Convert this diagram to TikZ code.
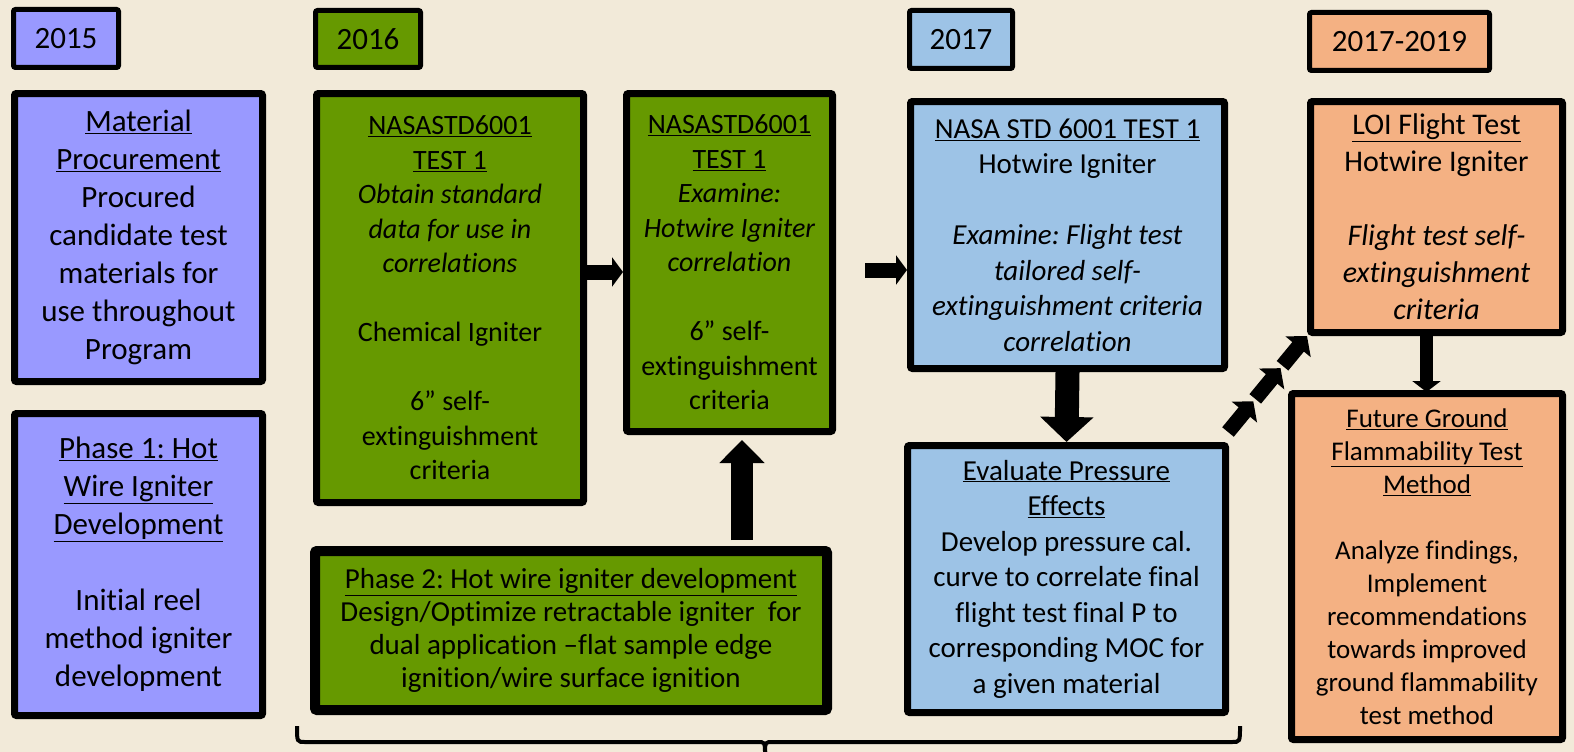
\documentclass[tikz,border=0pt]{standalone}
\usepackage{fontspec}
\setmainfont{Carlito}[Ligatures=NoCommon]
\frenchspacing
\usetikzlibrary{arrows.meta,calc}
\definecolor{bg}{HTML}{F2EAD9}
\definecolor{purp}{HTML}{9999FF}
\definecolor{grn}{HTML}{669900}
\definecolor{blu}{HTML}{9DC3E6}
\definecolor{org}{HTML}{F4B183}
\tikzset{
  box/.style={draw=black, line width=7pt, rounded corners=2pt, align=center, inner sep=0pt},
  yearbox/.style={box, line width=5pt, font=\fontsize{31}{38}\selectfont},
  fa/.style={font=\fontsize{31}{38}\selectfont},
  fb/.style={font=\fontsize{28}{34.5}\selectfont},
  fc/.style={font=\fontsize{29}{35.5}\selectfont},
  fd/.style={font=\fontsize{27}{33}\selectfont},
  fp/.style={font=\fontsize{29}{33}\selectfont},
  fe/.style={font=\fontsize{30}{37}\selectfont},
  bigarrow/.style={line width=22pt, -{Triangle[length=23pt,width=44pt]}},
  dnarrow/.style={line width=24pt, -{Triangle[length=25pt,width=52pt]}},
  midarrow/.style={line width=15pt, -{Triangle[length=11pt,width=29pt]}},
  smallarrow/.style={line width=13pt, -{Triangle[length=11pt,width=28pt]}},
  dasharrow/.style={line width=15pt, -{Triangle[length=14pt,width=32pt]}},
}
\begin{document}
\begin{tikzpicture}[x=1pt,y=-1pt]
\fill[bg] (0,0) rectangle (1574,752);
\useasboundingbox (0,0) rectangle (1574,752);

% year boxes
\node[yearbox, fill=purp, minimum width=105pt, minimum height=58pt] (y15) at (66,38.5) {2015};
\node[yearbox, fill=grn, minimum width=105pt, minimum height=57pt] (y16) at (368,39) {2016};
\node[yearbox, fill=blu, minimum width=103pt, minimum height=58pt] (y17) at (961,39.5) {2017};
\node[yearbox, fill=org, minimum width=180pt, minimum height=58pt] (y1719) at (1399.5,41.5) {2017-2019};

% 2015
\node[box, fa, fill=purp, minimum width=248pt, minimum height=288pt] (mat) at (138.5,237.5)
 {\underline{Material}\\ \underline{Procurement}\\ Procured\\ candidate test\\ materials for\\ use throughout\\ Program};
\node[box, fa, fill=purp, minimum width=248pt, minimum height=302pt] (ph1) at (138.5,564.5)
 {\underline{Phase 1: Hot}\\ \underline{Wire Igniter}\\ \underline{Development}\\[38pt] Initial reel\\ method igniter\\ development};

% 2016
\node[box, fb, fill=grn, minimum width=267pt, minimum height=409pt] (nasa1) at (450,298)
 {\underline{NASASTD6001}\\ \underline{TEST 1}\\ \textit{Obtain standard}\\ \textit{data for use in}\\ \textit{correlations}\\[34.5pt] Chemical Igniter\\[34.5pt] 6” self-\\ extinguishment\\ criteria};
\node[box, fb, fill=grn, minimum width=206pt, minimum height=338pt] (ex1) at (729.5,262.5)
 {\underline{NASASTD6001}\\ \underline{TEST 1}\\ \textit{Examine:}\\ \textit{Hotwire Igniter}\\ \textit{correlation}\\[34.5pt] 6” self-\\ extinguishment\\ criteria};
\node[box, fp, line width=10pt, fill=grn, minimum width=512pt, minimum height=159pt] (ph2) at (571,630.5)
 {\underline{Phase 2: Hot wire igniter development}\\ Design/Optimize retractable igniter\ \ for\\ dual application –flat sample edge\\ ignition/wire surface ignition};

% 2017
\node[box, fc, fill=blu, minimum width=314pt, minimum height=267pt] (blue1) at (1067.5,235)
 {\underline{NASA STD 6001 TEST 1}\\ Hotwire Igniter\\[35.5pt] \textit{Examine: Flight test}\\ \textit{tailored self-}\\ \textit{extinguishment criteria}\\ \textit{correlation}};
\node[box, fc, fill=blu, minimum width=318pt, minimum height=267pt] (eval) at (1066.5,579)
 {\underline{Evaluate Pressure}\\ \underline{Effects}\\ Develop pressure cal.\\ curve to correlate final\\ flight test final P to\\ corresponding MOC for\\ a given material};

% 2017-2019
\node[box, fe, fill=org, minimum width=252pt, minimum height=231pt] (loi) at (1436.5,217)
 {\underline{LOI Flight Test}\\ Hotwire Igniter\\[37pt] \textit{Flight test self-}\\ \textit{extinguishment}\\ \textit{criteria}};
\node[box, fd, fill=org, minimum width=271pt, minimum height=346pt] (fut) at (1427,566.5)
 {\underline{Future Ground}\\ \underline{Flammability Test}\\ \underline{Method}\\[33pt] Analyze findings,\\ Implement\\ recommendations\\ towards improved\\ ground flammability\\ test method};

% arrows
\coordinate (r1) at (0,272);
\draw[midarrow] (nasa1.east |- r1) -- (ex1.west |- r1);
\coordinate (a2s) at (865,270);
\draw[midarrow] (a2s) -- (blue1.west |- a2s);
\coordinate (upx) at (742,0);
\draw[bigarrow] ($(ph2.north -| upx)+(0,-6)$) -- ($(ex1.south -| upx)+(0,5)$);
\draw[dnarrow] (blue1.south) -- (eval.north);
\coordinate (dnx) at (1426.5,0);
\draw[smallarrow] (loi.south -| dnx) -- ($(fut.north -| dnx)+(0,2)$);
\coordinate (ds) at (1228,432);
\coordinate (de) at (loi.south west);
\draw[dasharrow] ($(ds)!0!(de)$) -- ($(ds)!0.32!(de)$);
\draw[dasharrow] ($(ds)!0.345!(de)$) -- ($(ds)!0.665!(de)$);
\draw[dasharrow] ($(ds)!0.69!(de)$) -- ($(ds)!1!(de)$);

% brace
\draw[line width=4pt] (297,726) .. controls (297,742) .. (305,742) -- (757,742) .. controls (765,742) .. (765,753);
\draw[line width=4pt] (765,753) .. controls (765,742) .. (773,742) -- (1232,742) .. controls (1240,742) .. (1240,726);
\end{tikzpicture}
\end{document}
